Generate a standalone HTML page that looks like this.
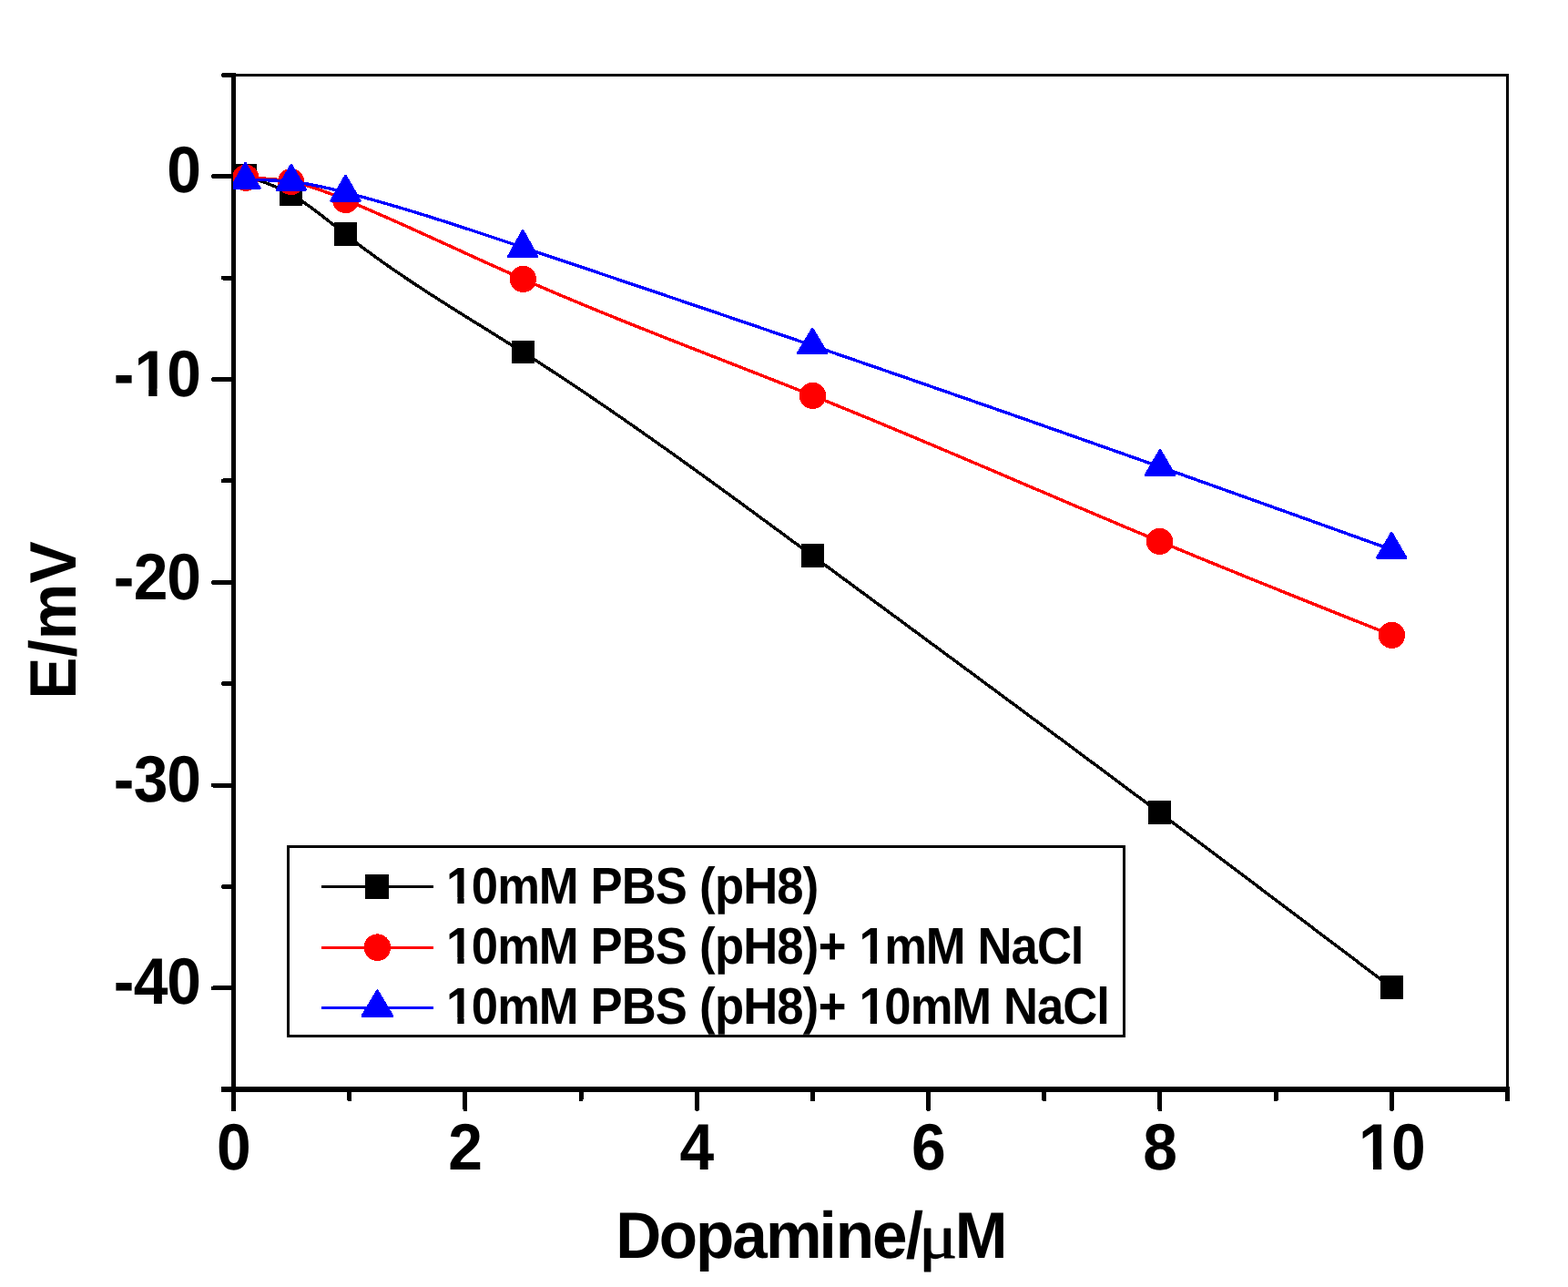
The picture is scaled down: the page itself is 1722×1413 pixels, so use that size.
<!DOCTYPE html>
<html lang="en"><head><meta charset="utf-8"><title>E/mV – Dopamine/μM</title>
<style>html,body{margin:0;padding:0;background:#fff;}body{width:1722px;height:1413px;overflow:hidden;}svg{display:block;}text{font-family:"Liberation Sans",sans-serif;font-weight:bold;fill:#000;text-rendering:geometricPrecision;}</style>
</head><body>
<svg width="1722" height="1413" viewBox="0 0 1722 1413">
<rect x="0" y="0" width="1722" height="1413" fill="#ffffff"/>
<defs><clipPath id="plotclip"><rect x="256" y="82" width="1400" height="1114"/></clipPath><clipPath id="c0"><path clip-rule="evenodd" d="M-3000 -3000H3000V3000H-3000ZM159.86 426.74H173.65V436.8H159.86ZM183.54 426.74H196.41V436.8H183.54Z"/></clipPath><clipPath id="c1"><path clip-rule="evenodd" d="M-3000 -3000H3000V3000H-3000ZM1590.41 1275.74H1604.19V1285.8H1590.41ZM1614.09 1275.74H1626.96V1285.8H1614.09Z"/></clipPath><clipPath id="c2"><path clip-rule="evenodd" d="M-3000 -3000H3000V3000H-3000ZM529.06 985.02H540.2V993.5H529.06ZM547.97 985.02H558.39V993.5H547.97Z"/></clipPath><clipPath id="c3"><path clip-rule="evenodd" d="M-3000 -3000H3000V3000H-3000ZM529.06 1051.02H540.2V1059.5H529.06ZM547.97 1051.02H558.39V1059.5H547.97ZM1016.54 1051.02H1027.68V1059.5H1016.54ZM1035.45 1051.02H1045.87V1059.5H1035.45Z"/></clipPath><clipPath id="c4"><path clip-rule="evenodd" d="M-3000 -3000H3000V3000H-3000ZM529.06 1117.02H540.2V1125.5H529.06ZM547.97 1117.02H558.39V1125.5H547.97ZM1016.54 1117.02H1027.68V1125.5H1016.54ZM1035.45 1117.02H1045.87V1125.5H1035.45Z"/></clipPath></defs>
<g fill="#000000">
<rect x="254" y="80" width="5" height="1140"/>
<rect x="243" y="1193" width="1415" height="6"/>
<rect x="256" y="81" width="1401" height="3"/>
<rect x="1654" y="81" width="3" height="1115"/>
</g>
<g stroke="#000000" stroke-width="5" stroke-linecap="round" fill="none" shape-rendering="crispEdges">
<line x1="245.5" y1="82.3" x2="255" y2="82.3"/>
<line x1="234.5" y1="193.7" x2="255" y2="193.7"/>
<line x1="245.5" y1="305.1" x2="255" y2="305.1"/>
<line x1="234.5" y1="416.5" x2="255" y2="416.5"/>
<line x1="245.5" y1="527.9" x2="255" y2="527.9"/>
<line x1="234.5" y1="639.3" x2="255" y2="639.3"/>
<line x1="245.5" y1="750.7" x2="255" y2="750.7"/>
<line x1="234.5" y1="862.1" x2="255" y2="862.1"/>
<line x1="245.5" y1="973.5" x2="255" y2="973.5"/>
<line x1="234.5" y1="1084.9" x2="255" y2="1084.9"/>
<line x1="245.5" y1="1196.3" x2="255" y2="1196.3"/>
<line x1="256.5" y1="1196" x2="256.5" y2="1217.5"/>
<line x1="383.68" y1="1196" x2="383.68" y2="1207"/>
<line x1="510.86" y1="1196" x2="510.86" y2="1217.5"/>
<line x1="638.05" y1="1196" x2="638.05" y2="1207"/>
<line x1="765.23" y1="1196" x2="765.23" y2="1217.5"/>
<line x1="892.41" y1="1196" x2="892.41" y2="1207"/>
<line x1="1019.59" y1="1196" x2="1019.59" y2="1217.5"/>
<line x1="1146.77" y1="1196" x2="1146.77" y2="1207"/>
<line x1="1273.95" y1="1196" x2="1273.95" y2="1217.5"/>
<line x1="1401.14" y1="1196" x2="1401.14" y2="1207"/>
<line x1="1528.32" y1="1196" x2="1528.32" y2="1217.5"/>
<line x1="1655.5" y1="1196" x2="1655.5" y2="1207"/>
</g>
<g clip-path="url(#plotclip)" shape-rendering="crispEdges">
<g fill="#000000">
<path fill="none" stroke="#000000" stroke-width="3.4" stroke-linejoin="round" d="M269.5 193.15 L271.58 193.83 L273.67 194.51 L275.75 195.19 L277.83 195.88 L279.92 196.58 L282 197.28 L284.08 197.99 L286.17 198.72 L288.25 199.46 L290.33 200.22 L292.42 200.99 L294.5 201.78 L296.58 202.6 L298.67 203.43 L300.75 204.29 L302.83 205.18 L304.92 206.09 L307 207.03 L309.08 208.01 L311.17 209.01 L313.25 210.05 L315.33 211.13 L317.42 212.25 L319.5 213.4 L322 214.84 L324.5 216.34 L327 217.89 L329.5 219.49 L332 221.13 L334.5 222.83 L337 224.56 L339.5 226.33 L342 228.14 L344.5 229.98 L347 231.85 L349.5 233.74 L352 235.66 L354.5 237.6 L357 239.55 L359.5 241.52 L362 243.5 L364.5 245.49 L367 247.48 L369.5 249.47 L372 251.46 L374.5 253.45 L377 255.43 L379.5 257.4 L387.62 263.71 L395.75 269.88 L403.88 275.92 L412 281.84 L420.12 287.65 L428.25 293.35 L436.38 298.96 L444.5 304.47 L452.62 309.91 L460.75 315.27 L468.88 320.56 L477 325.79 L485.12 330.97 L493.25 336.11 L501.38 341.22 L509.5 346.29 L517.62 351.35 L525.75 356.4 L533.88 361.44 L542 366.48 L550.12 371.54 L558.25 376.61 L566.38 381.71 L574.5 386.85 L587.75 395.32 L601 403.89 L614.25 412.57 L627.5 421.34 L640.75 430.21 L654 439.17 L667.25 448.22 L680.5 457.34 L693.75 466.54 L707 475.82 L720.25 485.15 L733.5 494.55 L746.75 504 L760 513.51 L773.25 523.06 L786.5 532.66 L799.75 542.29 L813 551.95 L826.25 561.64 L839.5 571.36 L852.75 581.09 L866 590.84 L879.25 600.59 L892.5 610.35 L908.38 622.04 L924.25 633.73 L940.12 645.43 L956 657.12 L971.88 668.82 L987.75 680.51 L1003.62 692.21 L1019.5 703.92 L1035.38 715.63 L1051.25 727.34 L1067.12 739.06 L1083 750.79 L1098.88 762.53 L1114.75 774.27 L1130.62 786.02 L1146.5 797.78 L1162.38 809.55 L1178.25 821.34 L1194.12 833.13 L1210 844.94 L1225.88 856.76 L1241.75 868.59 L1257.62 880.44 L1273.5 892.3 L1284.12 900.25 L1294.75 908.2 L1305.38 916.17 L1316 924.13 L1326.62 932.11 L1337.25 940.09 L1347.88 948.07 L1358.5 956.06 L1369.12 964.06 L1379.75 972.06 L1390.38 980.06 L1401 988.07 L1411.62 996.08 L1422.25 1004.09 L1432.88 1012.11 L1443.5 1020.13 L1454.12 1028.15 L1464.75 1036.18 L1475.38 1044.2 L1486 1052.23 L1496.62 1060.26 L1507.25 1068.29 L1517.88 1076.32 L1528.5 1084.35"/>
<rect x="257" y="179.95" width="25" height="25.6"/>
<rect x="307" y="200.2" width="25" height="25.6"/>
<rect x="367" y="244.2" width="25" height="25.6"/>
<rect x="562" y="373.65" width="25" height="25.6"/>
<rect x="880" y="597.15" width="25" height="25.6"/>
<rect x="1261" y="879.1" width="25" height="25.6"/>
<rect x="1516" y="1071.15" width="25" height="25.6"/>
</g>
<g fill="#ff0000">
<path fill="none" stroke="#ff0000" stroke-width="3.4" stroke-linejoin="round" d="M269.8 195.3 L271.88 195.36 L273.96 195.42 L276.04 195.49 L278.12 195.55 L280.2 195.63 L282.27 195.71 L284.35 195.79 L286.43 195.89 L288.51 195.99 L290.59 196.1 L292.67 196.23 L294.75 196.37 L296.83 196.52 L298.91 196.69 L300.99 196.88 L303.07 197.08 L305.15 197.3 L307.23 197.55 L309.3 197.81 L311.38 198.1 L313.46 198.41 L315.54 198.75 L317.62 199.11 L319.7 199.5 L322.2 200.01 L324.69 200.55 L327.19 201.13 L329.68 201.75 L332.18 202.41 L334.68 203.1 L337.17 203.82 L339.67 204.57 L342.16 205.35 L344.66 206.16 L347.15 206.99 L349.65 207.85 L352.15 208.73 L354.64 209.64 L357.14 210.56 L359.63 211.5 L362.13 212.46 L364.62 213.43 L367.12 214.42 L369.62 215.42 L372.11 216.42 L374.61 217.44 L377.1 218.47 L379.6 219.5 L387.72 222.89 L395.84 226.32 L403.96 229.79 L412.08 233.31 L420.2 236.85 L428.33 240.43 L436.45 244.03 L444.57 247.66 L452.69 251.31 L460.81 254.98 L468.93 258.67 L477.05 262.36 L485.17 266.07 L493.29 269.78 L501.41 273.49 L509.53 277.2 L517.65 280.9 L525.77 284.6 L533.9 288.29 L542.02 291.96 L550.14 295.62 L558.26 299.25 L566.38 302.87 L574.5 306.45 L587.75 312.23 L601 317.94 L614.25 323.58 L627.5 329.15 L640.75 334.66 L654 340.12 L667.25 345.52 L680.5 350.88 L693.75 356.2 L707 361.48 L720.25 366.73 L733.5 371.95 L746.75 377.15 L760 382.34 L773.25 387.52 L786.5 392.68 L799.75 397.85 L813 403.02 L826.25 408.2 L839.5 413.39 L852.75 418.61 L866 423.84 L879.25 429.1 L892.5 434.4 L908.38 440.79 L924.25 447.24 L940.12 453.74 L956 460.27 L971.88 466.85 L987.75 473.46 L1003.62 480.11 L1019.5 486.79 L1035.38 493.49 L1051.25 500.21 L1067.12 506.94 L1083 513.7 L1098.88 520.46 L1114.75 527.23 L1130.62 534 L1146.5 540.76 L1162.38 547.53 L1178.25 554.28 L1194.12 561.02 L1210 567.75 L1225.88 574.45 L1241.75 581.13 L1257.62 587.78 L1273.5 594.4 L1284.12 598.81 L1294.75 603.21 L1305.38 607.59 L1316 611.96 L1326.62 616.31 L1337.25 620.65 L1347.88 624.98 L1358.5 629.3 L1369.12 633.61 L1379.75 637.91 L1390.38 642.19 L1401 646.47 L1411.62 650.75 L1422.25 655.01 L1432.88 659.27 L1443.5 663.52 L1454.12 667.77 L1464.75 672.01 L1475.38 676.25 L1486 680.48 L1496.62 684.71 L1507.25 688.94 L1517.88 693.17 L1528.5 697.4"/>
<circle cx="269.8" cy="195.3" r="14.6"/>
<circle cx="319.7" cy="199.5" r="14.6"/>
<circle cx="379.6" cy="219.5" r="14.6"/>
<circle cx="574.5" cy="306.45" r="14.6"/>
<circle cx="892.5" cy="434.4" r="14.6"/>
<circle cx="1273.5" cy="594.4" r="14.6"/>
<circle cx="1528.5" cy="697.4" r="14.6"/>
</g>
<g fill="#0000ff" stroke="#0000ff" stroke-width="3" stroke-linejoin="round">
<path fill="none" stroke-width="3.4" d="M269.5 197.5 L271.6 197.51 L273.7 197.52 L275.8 197.53 L277.9 197.55 L280 197.57 L282.1 197.59 L284.2 197.61 L286.3 197.65 L288.4 197.68 L290.5 197.73 L292.6 197.78 L294.7 197.84 L296.8 197.91 L298.9 197.99 L301 198.08 L303.1 198.18 L305.2 198.3 L307.3 198.42 L309.4 198.56 L311.5 198.72 L313.6 198.89 L315.7 199.08 L317.8 199.28 L319.9 199.5 L322.38 199.78 L324.87 200.09 L327.35 200.43 L329.83 200.78 L332.32 201.16 L334.8 201.56 L337.28 201.98 L339.77 202.42 L342.25 202.87 L344.73 203.35 L347.22 203.84 L349.7 204.35 L352.18 204.88 L354.67 205.41 L357.15 205.97 L359.63 206.53 L362.12 207.11 L364.6 207.69 L367.08 208.29 L369.57 208.9 L372.05 209.51 L374.53 210.14 L377.02 210.76 L379.5 211.4 L387.62 213.51 L395.75 215.68 L403.88 217.89 L412 220.15 L420.12 222.45 L428.25 224.79 L436.38 227.18 L444.5 229.6 L452.62 232.06 L460.75 234.55 L468.88 237.07 L477 239.62 L485.12 242.2 L493.25 244.8 L501.38 247.42 L509.5 250.07 L517.62 252.73 L525.75 255.41 L533.88 258.1 L542 260.81 L550.12 263.52 L558.25 266.24 L566.38 268.97 L574.5 271.7 L587.75 276.15 L601.01 280.61 L614.26 285.07 L627.52 289.53 L640.77 293.99 L654.02 298.46 L667.28 302.93 L680.53 307.4 L693.79 311.88 L707.04 316.36 L720.3 320.84 L733.55 325.32 L746.8 329.81 L760.06 334.31 L773.31 338.81 L786.57 343.31 L799.82 347.81 L813.08 352.33 L826.33 356.84 L839.58 361.36 L852.84 365.89 L866.09 370.42 L879.35 374.96 L892.6 379.5 L908.49 384.95 L924.38 390.42 L940.27 395.89 L956.17 401.36 L972.06 406.85 L987.95 412.34 L1003.84 417.85 L1019.73 423.36 L1035.62 428.88 L1051.52 434.4 L1067.41 439.94 L1083.3 445.48 L1099.19 451.03 L1115.08 456.59 L1130.97 462.16 L1146.87 467.73 L1162.76 473.31 L1178.65 478.9 L1194.54 484.5 L1210.43 490.1 L1226.33 495.72 L1242.22 501.34 L1258.11 506.96 L1274 512.6 L1284.61 516.37 L1295.22 520.14 L1305.83 523.91 L1316.43 527.68 L1327.04 531.46 L1337.65 535.24 L1348.26 539.03 L1358.87 542.81 L1369.47 546.6 L1380.08 550.39 L1390.69 554.18 L1401.3 557.98 L1411.91 561.77 L1422.52 565.57 L1433.12 569.37 L1443.73 573.17 L1454.34 576.97 L1464.95 580.77 L1475.56 584.58 L1486.17 588.38 L1496.77 592.19 L1507.38 595.99 L1517.99 599.79 L1528.6 603.6"/>
<path d="M269.4 179.4 L285 206.4 L253.8 206.4 Z"/>
<path d="M319.9 181.3 L335.5 208.4 L304.3 208.4 Z"/>
<path d="M379.5 193.3 L395.1 220.3 L363.9 220.3 Z"/>
<path d="M574.2 253.5 L589.8 281.5 L558.6 281.5 Z"/>
<path d="M892.2 361.5 L907.8 387.5 L876.6 387.5 Z"/>
<path d="M1274 494.5 L1289.6 521.4 L1258.4 521.4 Z"/>
<path d="M1528.2 585.5 L1543.8 612.2 L1512.6 612.2 Z"/>
</g>
</g>
<g>
<text transform="scale(0.94 1)" x="195.01" y="211.3" font-size="72.1" >0</text>
<text transform="scale(0.94 1)" x="132.76 156.82 195.01" y="435.3" font-size="72.1" clip-path="url(#c0)">-10</text>
<text transform="scale(0.94 1)" x="132.76 156.07 195.01" y="658.3" font-size="72.1" >-20</text>
<text transform="scale(0.94 1)" x="132.76 156.07 195.01" y="880.3" font-size="72.1" >-30</text>
<text transform="scale(0.94 1)" x="132.76 156.07 195.01" y="1102.3" font-size="72.1" >-40</text>
<text transform="scale(0.94 1)" x="253.09" y="1284.3" font-size="72.1" >0</text>
<text transform="scale(0.94 1)" x="523.69" y="1284.3" font-size="72.1" >2</text>
<text transform="scale(0.94 1)" x="794.29" y="1284.3" font-size="72.1" >4</text>
<text transform="scale(0.94 1)" x="1064.89" y="1284.3" font-size="72.1" >6</text>
<text transform="scale(0.94 1)" x="1335.49" y="1284.3" font-size="72.1" >8</text>
<text transform="scale(0.94 1)" x="1587.37 1625.55" y="1284.3" font-size="72.1" clip-path="url(#c1)">10</text>
</g>
<text transform="scale(0.961 1)" x="703.64 753.16 795.05 836.94 875.08 936.05 955.1 996.99 1035.13 1050.02 1091.26" y="1380.8" font-size="72.1" >Dopamine/<tspan font-family="'Liberation Serif', serif" font-weight="normal" font-size="69.58" textLength="44.02" lengthAdjust="spacingAndGlyphs" stroke="#000" stroke-width="1.1" stroke-linejoin="round">μ</tspan>M</text>
<text transform="translate(83 767.7) rotate(-90) scale(0.961 1)" x="0 48.1 68.13 132.25" y="0" font-size="72.1" >E/mV</text>
<rect x="316.5" y="929.5" width="918" height="208" fill="#ffffff" stroke="#000000" stroke-width="3"/>
<g shape-rendering="crispEdges">
<line x1="353" y1="973.5" x2="476" y2="973.5" stroke="#000000" stroke-width="3"/>
<rect x="401" y="960" width="26" height="27" fill="#000000"/>
<line x1="353" y1="1040.5" x2="476" y2="1040.5" stroke="#ff0000" stroke-width="3"/>
<circle cx="414.4" cy="1040.2" r="14.8" fill="#ff0000"/>
<line x1="353" y1="1106.5" x2="476" y2="1106.5" stroke="#0000ff" stroke-width="3"/>
<path d="M414.4 1088 L430.7 1115.4 L398.1 1115.4 Z" fill="#0000ff" stroke="#0000ff" stroke-width="3" stroke-linejoin="round"/>
</g>
<text transform="scale(0.93 1)" x="526.99 556.82 587.41 636.32 682.13 697.41 734.1 773.82 810.5 825.78 844.1 877.69 917.41 948" y="992" font-size="56.6" clip-path="url(#c2)">10mM PBS (pH8)</text>
<text transform="scale(0.93 1)" x="526.99 556.82 587.41 636.32 682.13 697.41 734.1 773.82 810.5 825.78 844.1 877.69 917.41 948 966.32 998.44 1014.47 1044.31 1093.21 1139.02 1154.31 1194.02 1224.61 1264.33" y="1058" font-size="56.6" clip-path="url(#c3)">10mM PBS (pH8)+ 1mM NaCl</text>
<text transform="scale(0.93 1)" x="526.99 556.82 587.41 636.32 682.13 697.41 734.1 773.82 810.5 825.78 844.1 877.69 917.41 948 966.32 998.44 1014.47 1044.31 1074.89 1123.8 1169.61 1184.89 1224.61 1255.2 1294.92" y="1124" font-size="56.6" clip-path="url(#c4)">10mM PBS (pH8)+ 10mM NaCl</text>
</svg>
</body></html>
